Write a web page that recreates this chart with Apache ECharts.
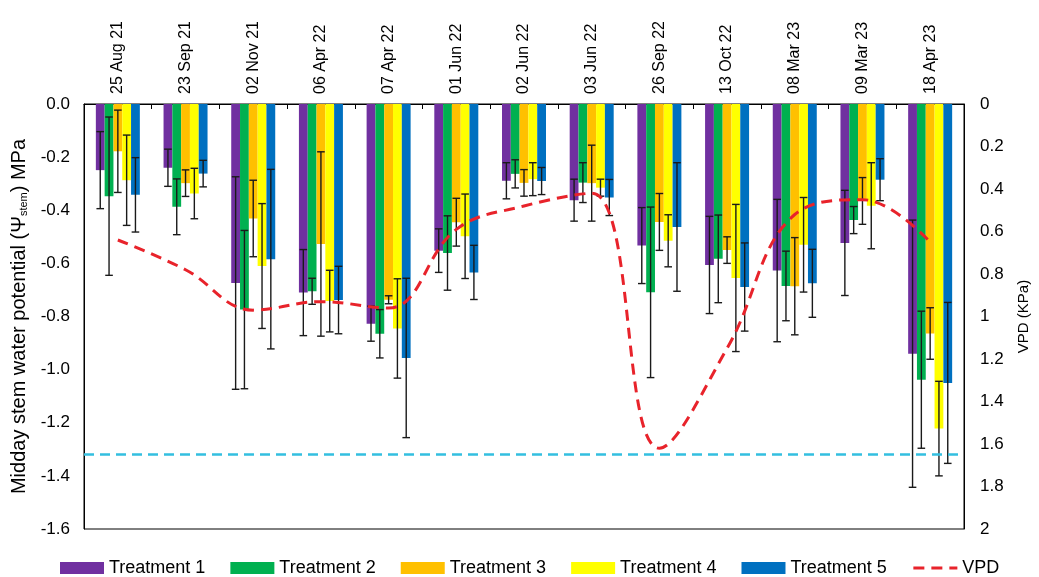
<!DOCTYPE html>
<html>
<head>
<meta charset="utf-8">
<script src="https://cdn.jsdelivr.net/npm/echarts@6/dist/echarts.min.js"></script>
<style>html,body{margin:0;padding:0;background:#fff;}#c{width:1039px;height:577px;}</style>
</head>
<body>
<div id="c"></div>
<script>
var categories = ['25 Aug 21','23 Sep 21','02 Nov 21','06 Apr 22','07 Apr 22','01 Jun 22','02 Jun 22','03 Jun 22','26 Sep 22','13 Oct 22','08 Mar 23','09 Mar 23','18 Apr 23'];
var seriesNames = ['Treatment 1','Treatment 2','Treatment 3','Treatment 4','Treatment 5'];
var t1 = [-0.249,-0.240,-0.674,-0.710,-0.827,-0.552,-0.289,-0.362,-0.533,-0.606,-0.627,-0.523,-0.940];
var t2 = [-0.347,-0.387,-0.774,-0.705,-0.865,-0.561,-0.263,-0.296,-0.709,-0.583,-0.685,-0.437,-1.038];
var t3 = [-0.178,-0.298,-0.431,-0.527,-0.737,-0.445,-0.297,-0.298,-0.444,-0.550,-0.686,-0.365,-0.864];
var t4 = [-0.287,-0.337,-0.610,-0.742,-0.845,-0.498,-0.283,-0.315,-0.515,-0.655,-0.530,-0.383,-1.222];
var t5 = [-0.342,-0.262,-0.584,-0.738,-0.956,-0.634,-0.290,-0.352,-0.463,-0.689,-0.675,-0.285,-1.050];
var e1 = [0.145,0.070,0.400,0.162,0.066,0.082,0.068,0.079,0.143,0.183,0.268,0.198,0.503];
var e2 = [0.298,0.105,0.298,0.049,0.091,0.140,0.053,0.075,0.321,0.165,0.131,0.051,0.258];
var e3 = [0.155,0.050,0.144,0.347,0.015,0.090,0.050,0.143,0.107,0.050,0.183,0.088,0.097];
var e4 = [0.170,0.095,0.235,0.116,0.187,0.159,0.062,0.032,0.098,0.277,0.178,0.162,0.178];
var e5 = [0.140,0.050,0.338,0.127,0.300,0.102,0.051,0.068,0.242,0.166,0.128,0.079,0.303];
var vpd = [0.64,0.78,0.97,0.93,0.96,0.59,0.48,0.42,1.62,1.15,0.52,0.45,0.65];
var thresholdLine = -1.325;
var leftTicks = {min:-1.6, max:0, interval:0.2};
var rightTicks = {min:0, max:2, interval:0.2};

var colors = ['#7030A0','#00B050','#FFC000','#FFFF00','#0070C0'];
var FONT = 'Liberation Sans, Arial, sans-serif';
var vals = [t1,t2,t3,t4,t5];
var errs = [e1,e2,e3,e4,e5];
var GAP = 0.35;

var series = [];
vals.forEach(function(arr, k){
  var s = {
    name: seriesNames[k], type:'bar', yAxisIndex:0, data: arr,
    barGap:'0%', barCategoryGap: (GAP*100)+'%',
    itemStyle:{color: colors[k]}, z:2
  };
  if (k === 0) {
    s.markLine = {
      silent:true, symbol:'none', label:{show:false},
      lineStyle:{color:'#33BFE0', type:[10,6], width:2.5},
      data:[{yAxis: thresholdLine}], z:5
    };
  }
  series.push(s);
});
vals.forEach(function(arr, k){
  series.push({
    type:'custom', yAxisIndex:0, z:4, silent:true,
    data: arr.map(function(v,i){ return [i, v, errs[k][i]]; }),
    renderItem: function(params, api){
      var i = api.value(0), v = api.value(1), e = api.value(2);
      var band = api.size([1,0])[0];
      var bw = band*(1-GAP)/5;
      var x = api.coord([i, v])[0] + (k-2)*bw;
      var yT = api.coord([i, v+e])[1];
      var yB = api.coord([i, v-e])[1];
      var c = 3.8;
      var st = {stroke:'#1a1a1a', lineWidth:1.4};
      return {type:'group', children:[
        {type:'line', shape:{x1:x,y1:yT,x2:x,y2:yB}, style:st},
        {type:'line', shape:{x1:x-c,y1:yT,x2:x+c,y2:yT}, style:st},
        {type:'line', shape:{x1:x-c,y1:yB,x2:x+c,y2:yB}, style:st}
      ]};
    }
  });
});
series.push({
  name:'VPD', type:'line', yAxisIndex:1, data: vpd, smooth:0.4,
  symbol:'none', z:6,
  lineStyle:{color:'#E8232B', width:3, type:[11,7]},
  itemStyle:{color:'#E8232B'}
});

var chart = echarts.init(document.getElementById('c'));
chart.setOption({
  animation:false,
  textStyle:{fontFamily:FONT},
  grid:{left:84, right:71, top:104, bottom:48, show:true, borderColor:'#000', borderWidth:1, backgroundColor:'transparent'},
  legend:{
    top:554, left:55, itemWidth:44, itemHeight:12, itemGap:25,
    textStyle:{fontSize:18, color:'#000', fontFamily:FONT},
    data:[
      {name:'Treatment 1', icon:'rect'},{name:'Treatment 2', icon:'rect'},{name:'Treatment 3', icon:'rect'},
      {name:'Treatment 4', icon:'rect'},{name:'Treatment 5', icon:'rect'},
      {name:'VPD', itemStyle:{opacity:0}, lineStyle:{color:'#E8232B', width:3, type:[11,7]}}
    ]
  },
  xAxis:{
    type:'category', position:'top', data:categories,
    axisLine:{show:true, lineStyle:{color:'#000'}},
    axisTick:{show:true, inside:true, length:5, lineStyle:{color:'#000'}},
    axisLabel:{rotate:90, fontSize:16, color:'#000', margin:10, fontFamily:FONT},
    splitLine:{show:false}
  },
  yAxis:[{
    type:'value', min:leftTicks.min, max:leftTicks.max, interval:leftTicks.interval,
    position:'left',
    name:'Midday stem water potential (Ψ{s|stem}) MPa',
    nameLocation:'middle', nameGap:50, nameRotate:90,
    nameTextStyle:{fontSize:20, color:'#000', fontFamily:FONT,
      rich:{s:{fontSize:11, color:'#000', verticalAlign:'bottom', fontFamily:FONT}}},
    axisLine:{show:true, lineStyle:{color:'#000'}},
    axisTick:{show:false},
    axisLabel:{fontSize:17, color:'#000', margin:14, fontFamily:FONT,
      formatter:function(v){ return v.toFixed(1); }},
    splitLine:{show:false}
  },{
    type:'value', min:rightTicks.min, max:rightTicks.max, interval:rightTicks.interval, inverse:true,
    position:'right',
    name:'VPD (KPa)', nameLocation:'middle', nameGap:52, nameRotate:90,
    nameTextStyle:{fontSize:15, color:'#000', fontFamily:FONT},
    axisLine:{show:true, lineStyle:{color:'#000'}},
    axisTick:{show:false},
    axisLabel:{fontSize:17, color:'#000', margin:16, fontFamily:FONT,
      formatter:function(v){ return String(+v.toFixed(1)); }},
    splitLine:{show:false}
  }],
  series: series
});
</script>
</body>
</html>
